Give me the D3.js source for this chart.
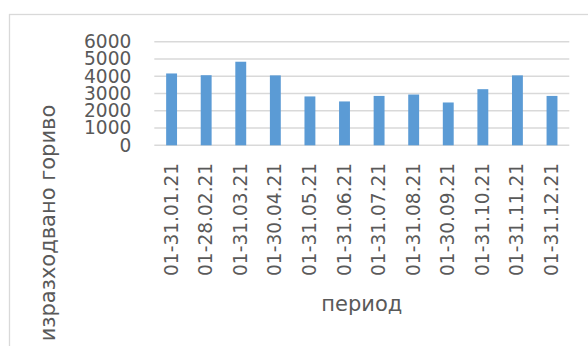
<!DOCTYPE html>
<html>
<head>
<meta charset="utf-8">
<script src="https://cdn.jsdelivr.net/npm/d3@7"></script>
<style>
  html, body { margin: 0; padding: 0; background: #ffffff; }
  svg { display: block; }
  text { font-family: "DejaVu Sans", sans-serif; fill: #595959; }
</style>
</head>
<body>
<svg id="chart" width="588" height="346"></svg>
<script>
// Monthly fuel consumption, 2021
const periods = [
  "01-31.01.21", "01-28.02.21", "01-31.03.21", "01-30.04.21",
  "01-31.05.21", "01-31.06.21", "01-31.07.21", "01-31.08.21",
  "01-30.09.21", "01-31.10.21", "01-31.11.21", "01-31.12.21"
];
const fuelUsed = [4160, 4060, 4840, 4050, 2830, 2540, 2860, 2940, 2480, 3250, 4050, 2860];
const yTicks = [0, 1000, 2000, 3000, 4000, 5000, 6000];
const xTitle = "период";
const yTitle = "изразходвано гориво";

const svg = d3.select("#chart");

// chart frame (extends past the right and bottom edges)
svg.append("rect")
  .attr("x", 9.5).attr("y", 14.5)
  .attr("width", 640).attr("height", 400)
  .attr("fill", "none")
  .attr("stroke", "#d9d9d9")
  .attr("stroke-width", 1.3);

const plot = { left: 154.3, right: 569.3, top: 41.7, bottom: 145.3 };

const x = d3.scaleBand()
  .domain(periods)
  .range([plot.left, plot.right])
  .paddingInner(0.685)
  .paddingOuter(0.3425);

const y = d3.scaleLinear()
  .domain([0, 6000])
  .range([plot.bottom, plot.top]);

// horizontal gridlines
svg.append("g")
  .selectAll("line")
  .data(yTicks)
  .join("line")
  .attr("x1", plot.left).attr("x2", plot.right)
  .attr("y1", d => y(d)).attr("y2", d => y(d))
  .attr("stroke", "#d9d9d9")
  .attr("stroke-width", 1.6);

// y tick labels
const yAxis = svg.append("g")
  .attr("transform", `translate(${plot.left},0)`)
  .call(d3.axisLeft(y).tickValues(yTicks).tickSize(0).tickPadding(23).tickFormat(d3.format("d")));
yAxis.select(".domain").remove();
yAxis.selectAll("text")
  .attr("font-family", "DejaVu Sans, sans-serif")
  .attr("font-size", "18.6px")
  .attr("fill", "#595959");

// bars
svg.append("g")
  .selectAll("rect")
  .data(fuelUsed)
  .join("rect")
  .attr("x", (d, i) => x(periods[i]))
  .attr("y", d => y(d))
  .attr("width", x.bandwidth())
  .attr("height", d => y(0) - y(d))
  .attr("fill", "#5b9bd5");

// x tick labels, rotated
const xAxis = svg.append("g")
  .attr("transform", `translate(0,${plot.bottom})`)
  .call(d3.axisBottom(x).tickSize(0).tickPadding(0));
xAxis.select(".domain").remove();
xAxis.selectAll("text")
  .attr("font-family", "DejaVu Sans, sans-serif")
  .attr("font-size", "18.6px")
  .attr("fill", "#595959")
  .attr("text-anchor", "end")
  .attr("dy", null)
  .attr("y", 0)
  .attr("transform", "translate(6,17.5) rotate(-90)");

// axis titles
svg.append("text")
  .attr("x", (plot.left + plot.right) / 2)
  .attr("y", 311)
  .attr("text-anchor", "middle")
  .attr("font-size", "21px")
  .text(xTitle);

svg.append("text")
  .attr("transform", "translate(55,223) rotate(-90)")
  .attr("text-anchor", "middle")
  .attr("font-size", "21px")
  .text(yTitle);
</script>
</body>
</html>
